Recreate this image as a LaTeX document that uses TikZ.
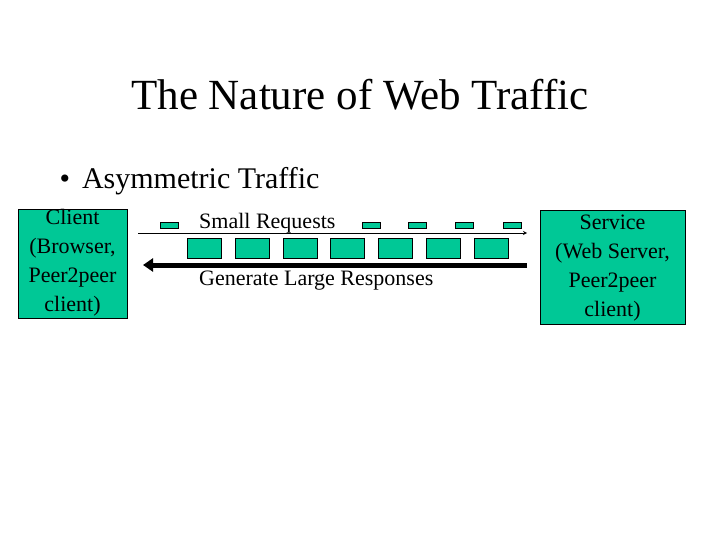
\documentclass[tikz,border=0pt]{standalone}
\usepackage{fontspec}
\usetikzlibrary{arrows.meta}
\setmainfont{Liberation Serif}
\definecolor{teal1}{RGB}{0,200,150}
\begin{document}
\begin{tikzpicture}[x=1pt,y=-1pt,
  box/.style={draw=black,fill=teal1,line width=0.8pt},
  sm/.style={draw=black,fill=teal1,line width=0.8pt,minimum width=18pt,minimum height=6pt,inner sep=0pt},
  lg/.style={draw=black,fill=teal1,line width=0.8pt,minimum width=34pt,minimum height=20pt,inner sep=0pt},
  lbl/.style={font=\fontsize{22}{29}\selectfont,align=center,inner sep=0pt}]
\useasboundingbox (0,0) rectangle (720,540);
\node[font=\fontsize{43}{50}\selectfont] (title) at (360,95) {The Nature of Web Traffic};
\node[font=\fontsize{30}{36}\selectfont,anchor=west] (bullet) at (56,181) {•\hspace{0.4em}Asymmetric Traffic};
\draw[box] (18,209) rectangle (127,318);
\node[lbl] (client) at (72.5,263) {Client\\(Browser,\\Peer2peer\\client)};
\draw[box] (540,210) rectangle (685,324);
\node[lbl] (service) at (612.5,268) {Service\\(Web Server,\\Peer2peer\\client)};
\coordinate (a1) at (138,233); \coordinate (a2) at (527,233);
\draw[-stealth,line width=0.8pt] (a1) -- (a2);
\coordinate (b1) at (527,265); \coordinate (b2) at (143,265);
\draw[-{Triangle[length=10pt,width=13pt]},line width=5pt] (b1) -- (b2);
\foreach \x [count=\i] in {169,371,417,464,512} \node[sm] (s\i) at (\x,225) {};
\foreach \x [count=\i] in {204,252,300,347,395,443,491} \node[lg] (l\i) at (\x,248) {};
\node[lbl,anchor=west] (req) at (199,223) {Small Requests};
\node[lbl,anchor=west] (resp) at (199,281) {Generate Large Responses};
\end{tikzpicture}
\end{document}
